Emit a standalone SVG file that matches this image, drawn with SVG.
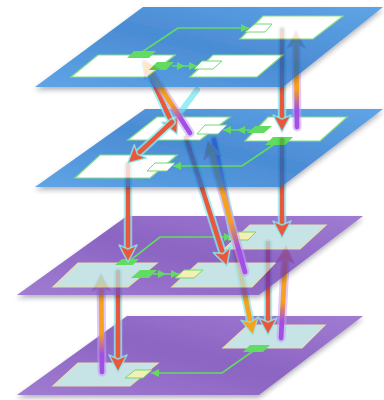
<svg xmlns="http://www.w3.org/2000/svg" width="384" height="400" viewBox="0 0 384 400">
<defs>
<style>
.layer{opacity:.75}
.pb{fill:url(#blueG);filter:url(#sh)}
.pp{fill:url(#purpG);filter:url(#sh)}
.wn{fill:#fff;stroke:#5fd45f;stroke-width:1.2}
.ln{fill:#b4dade;stroke:#e2d290;stroke-width:1.2}
.ws{fill:#fff;stroke:#46cc46;stroke-width:1}
.ys{fill:#efeb9a;stroke:#46cc46;stroke-width:1}
.gd{fill:#2ed02e}
.gl{fill:none;stroke:#2ed02e;stroke-width:1.6;marker-end:url(#hG)}
.gm{marker-mid:url(#hG)}
.rh{fill:none;stroke:#86eef2;stroke-opacity:.75;stroke-width:8.5;stroke-linecap:round}
.rl{fill:none;stroke:#e9573c;stroke-width:4.5;stroke-linecap:round}
.ph{fill:none;stroke:#c79cf2;stroke-opacity:.55;stroke-width:9;stroke-linecap:round}
.pl{fill:none;stroke-width:4.8;stroke-linecap:round}
</style>
<filter id="sh" x="-10%" y="-15%" width="120%" height="150%">
<feDropShadow dx="0" dy="3" stdDeviation="2.5" flood-color="#223" flood-opacity="0.45"/>
</filter>
<linearGradient id="blueG" x1="0" y1="1" x2="1" y2="0">
<stop offset="0" stop-color="#2a87de"/><stop offset="0.5" stop-color="#0f66c6"/><stop offset="1" stop-color="#2a87de"/>
</linearGradient>
<linearGradient id="purpG" x1="0" y1="1" x2="1" y2="0">
<stop offset="0" stop-color="#8052c3"/><stop offset="0.5" stop-color="#6630af"/><stop offset="1" stop-color="#8052c3"/>
</linearGradient>
<linearGradient id="g3" gradientUnits="userSpaceOnUse" x1="190" y1="133" x2="143" y2="60"><stop offset="0" stop-color="#a24fe6"/><stop offset="0.18" stop-color="#a24fe6"/><stop offset="0.4" stop-color="#f6a21e"/><stop offset="1" stop-color="#f6a21e"/></linearGradient>
<linearGradient id="g6" gradientUnits="userSpaceOnUse" x1="297" y1="127" x2="296" y2="31"><stop offset="0" stop-color="#a24fe6"/><stop offset="0.18" stop-color="#a24fe6"/><stop offset="0.4" stop-color="#f6a21e"/><stop offset="1" stop-color="#f6a21e"/></linearGradient>
<linearGradient id="g9" gradientUnits="userSpaceOnUse" x1="245" y1="272" x2="208" y2="141"><stop offset="0" stop-color="#a24fe6"/><stop offset="0.18" stop-color="#a24fe6"/><stop offset="0.4" stop-color="#f6a21e"/><stop offset="1" stop-color="#f6a21e"/></linearGradient>
<linearGradient id="g10" gradientUnits="userSpaceOnUse" x1="214" y1="140" x2="253" y2="335"><stop offset="0" stop-color="#a24fe6"/><stop offset="0.15" stop-color="#a24fe6"/><stop offset="0.35" stop-color="#f6a21e"/><stop offset="1" stop-color="#f6a21e"/></linearGradient>
<linearGradient id="g12" gradientUnits="userSpaceOnUse" x1="281" y1="338" x2="286" y2="246"><stop offset="0" stop-color="#a24fe6"/><stop offset="0.18" stop-color="#a24fe6"/><stop offset="0.4" stop-color="#f6a21e"/><stop offset="1" stop-color="#f6a21e"/></linearGradient>
<linearGradient id="g15" gradientUnits="userSpaceOnUse" x1="102" y1="372" x2="101" y2="274"><stop offset="0" stop-color="#a24fe6"/><stop offset="0.18" stop-color="#a24fe6"/><stop offset="0.4" stop-color="#f6a21e"/><stop offset="1" stop-color="#f6a21e"/></linearGradient>
<marker id="hRed" markerUnits="userSpaceOnUse" viewBox="-20 -20 40 40" markerWidth="40" markerHeight="40" refX="0" refY="0" orient="auto">
<path d="M10,0 L-7,-9 L-3,0 L-7,9 Z" fill="#e9573c" stroke="#86eef2" stroke-opacity=".8" stroke-width="1.6" stroke-linejoin="round"/>
</marker>
<marker id="hOr" markerUnits="userSpaceOnUse" viewBox="-20 -20 40 40" markerWidth="40" markerHeight="40" refX="0" refY="0" orient="auto">
<path d="M10,0 L-7,-9 L-3,0 L-7,9 Z" fill="#f6a21e" stroke="#86eef2" stroke-opacity=".7" stroke-width="1.4" stroke-linejoin="round"/>
</marker>
<marker id="hUp" markerUnits="userSpaceOnUse" viewBox="-20 -20 40 40" markerWidth="40" markerHeight="40" refX="0" refY="0" orient="auto">
<path d="M10,0 L-7,-9 L-3,0 L-7,9 Z" fill="#f6a21e" stroke="#d9a6f5" stroke-opacity=".8" stroke-width="1.4" stroke-linejoin="round"/>
</marker>
<marker id="hG" markerUnits="userSpaceOnUse" viewBox="-10 -10 20 20" markerWidth="20" markerHeight="20" refX="0" refY="0" orient="auto">
<path d="M0,0 L-8,-4 L-8,4 Z" fill="#2ed02e"/>
</marker>
</defs>

<!-- Layer 4 (bottom) -->
<g id="layer4" class="layer">
<polygon class="pp" points="127,316 363,316 259,395 17,395"/>
<g id="node-J"><polygon class="ln" points="248,325 325,325 302,348 223,348"/><polygon class="gd" points="250,345 270,345 263,352 243,352"/></g>
<g id="node-K"><polygon class="ln" points="78,363 158,363 130,386 53,386"/><polygon class="ys" points="135,370 152,370 143,378 125,378"/></g>
<g id="links-l4"><polyline class="gl" points="256,349 222,373 151,373"/></g>
</g>

<g id="connectors-l3-l4">
<g id="a13"><path class="rh" d="M268,243 L268,325"/><path class="rl" d="M268,243 L268,325" marker-end="url(#hRed)"/></g>
<g id="a12"><path class="ph" d="M281,338 L285.5,256"/><path class="pl" stroke="url(#g12)" d="M281,338 L285.5,256" marker-end="url(#hUp)"/></g>
<g id="a14"><path class="rh" d="M118,272 L118,362"/><path class="rl" d="M118,272 L118,362" marker-end="url(#hRed)"/></g>
<g id="a15"><path class="ph" d="M102,372 L101.1,284"/><path class="pl" stroke="url(#g15)" d="M102,372 L101.1,284" marker-end="url(#hUp)"/></g>
<g id="a10-low"><path class="rh" d="M233.5,237.5 L251,325.2"/><path class="pl" stroke="url(#g10)" d="M233.5,237.5 L251,325.2" marker-end="url(#hOr)"/></g>
</g>

<!-- Layer 3 -->
<g id="layer3" class="layer">
<polygon class="pp" points="127,216 363,216 259,295 17,295"/>
<g id="node-G"><polygon class="ln" points="250,225 326,225 300,249 224,249"/><polygon class="ys" points="238,232 256,232 248,240 228,240"/></g>
<g id="node-H"><polygon class="ln" points="78,263 157,263 128,287 53,287"/><polygon class="gd" points="122,259 139,259 133,265 115,265"/><polygon class="gd" points="140,270 157,270 149,278 131,278"/></g>
<g id="node-I"><polygon class="ln" points="198,263 275,263 252,287 172,287"/><polygon class="ys" points="184,270 203,270 194,278 175,278"/></g>
<g id="links-l3"><polyline class="gl" points="128,262 160,237 232,237"/><polyline class="gl gm" points="153,274 166,274 179,274"/></g>
</g>

<g id="connectors-l2-l3">
<g id="a7"><path class="rh" d="M128,165 L128,252"/><path class="rl" d="M128,165 L128,252" marker-end="url(#hRed)"/></g>
<g id="a8"><path class="rh" d="M186,138 L223.9,256.5"/><path class="rl" d="M186,138 L223.9,256.5" marker-end="url(#hRed)"/></g>
<g id="a10-up"><path class="rh" d="M214,140 L233.5,237.5"/><path class="pl" stroke="url(#g10)" d="M214,140 L233.5,237.5"/></g>
<g id="a9"><path class="ph" d="M245,272 L210.7,150.6"/><path class="pl" stroke="url(#g9)" d="M245,272 L210.7,150.6" marker-end="url(#hUp)"/></g>
<g id="a11"><path class="rh" d="M282,140 L282,228"/><path class="rl" d="M282,140 L282,228" marker-end="url(#hRed)"/></g>
</g>

<!-- Layer 2 -->
<g id="layer2" class="layer">
<polygon class="pb" points="145,109 383,109 281,187 35,187"/>
<g id="node-D"><polygon class="wn" points="157,117 230,117 200,140 128,140"/><polygon class="ws" points="205,125 227,125 218,134 197,134"/></g>
<g id="node-E"><polygon class="wn" points="268,117 347,117 320,141 245,141"/><polygon class="gd" points="255,126 272,126 264,133 247,133"/><polygon class="gd" points="273,137 293,137 285,145 265,145"/></g>
<g id="node-F"><polygon class="wn" points="100,155 177,155 150,178 75,178"/><polygon class="ws" points="155,163 175,163 167,171 147,171"/></g>
<g id="links-l2"><polyline class="gl gm" points="250,130 237,130 223,130"/><polyline class="gl" points="279,141 242,166 173,166"/></g>
</g>

<g id="connectors-l1-l2">
<g id="a4"><path d="M197,90 L182,110" fill="none" stroke="#6fe6ee" stroke-opacity=".7" stroke-width="6" stroke-linecap="round"/></g>
<g id="a1"><path class="rh" d="M145,64 L172.8,124.9"/><path class="rl" d="M145,64 L172.8,124.9" marker-end="url(#hRed)"/></g>
<g id="a2"><path class="rh" d="M172,122 L135.3,156.2"/><path class="rl" d="M172,122 L135.3,156.2" marker-end="url(#hRed)"/></g>
<g id="a3"><path class="ph" d="M190,133 L148.4,68.4"/><path class="pl" stroke="url(#g3)" d="M190,133 L148.4,68.4" marker-end="url(#hUp)"/></g>
<g id="a5"><path class="rh" d="M282,30 L282,122"/><path class="rl" d="M282,30 L282,122" marker-end="url(#hRed)"/></g>
<g id="a6"><path class="ph" d="M297,127 L296.1,41"/><path class="pl" stroke="url(#g6)" d="M297,127 L296.1,41" marker-end="url(#hUp)"/></g>
</g>

<!-- Layer 1 (top) -->
<g id="layer1" class="layer">
<polygon class="pb" points="143,7 383,7 283,87 35,87"/>
<g id="node-A"><polygon class="wn" points="263,16 343,16 313,39 240,39"/><polygon class="ws" points="255,24 272,24 265,32 245,32"/></g>
<g id="node-B"><polygon class="wn" points="98,55 175,55 147,77 71,77"/><polygon class="gd" points="134,51 156,51 149,58 127,58"/><polygon class="gd" points="157,62 174,62 166,70 149,70"/></g>
<g id="node-C"><polygon class="wn" points="213,55 283,55 257,77 190,77"/><polygon class="ws" points="202,61 222,61 213,69 194,69"/></g>
<g id="links-l1"><polyline class="gl" points="142,52 178,28 249,28"/><polyline class="gl gm" points="172,66 185,66 197,66"/></g>
</g>
</svg>
